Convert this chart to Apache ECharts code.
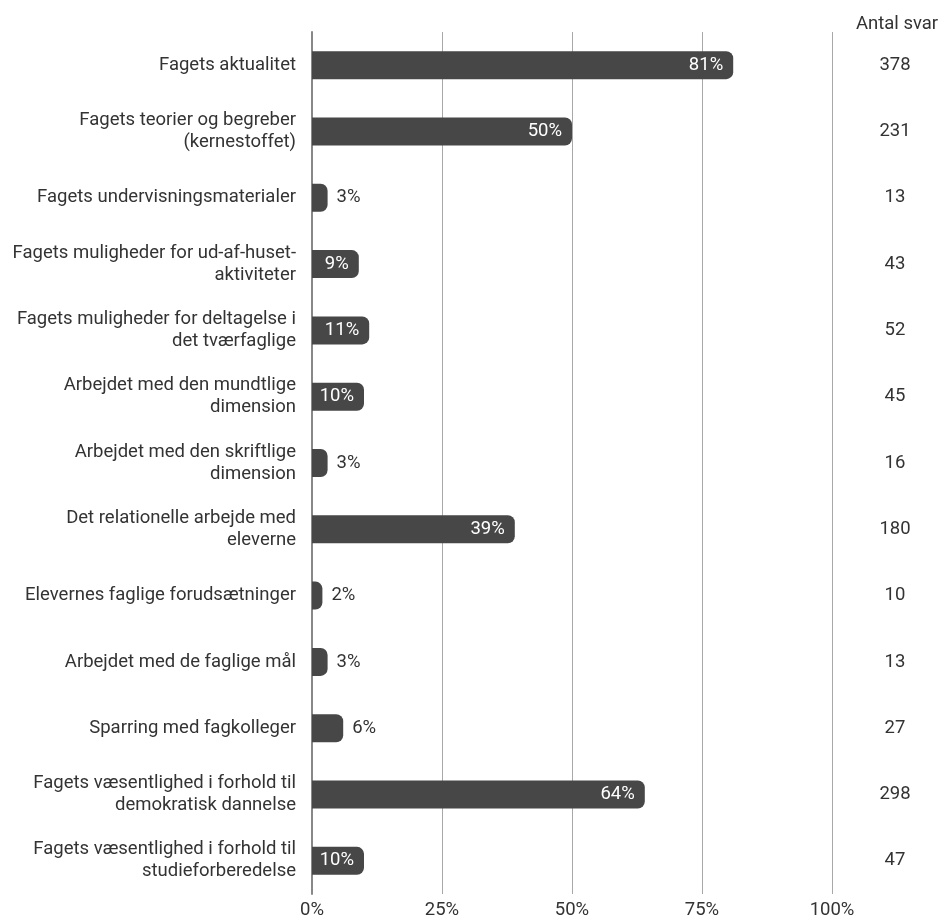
<!DOCTYPE html>
<html><head><meta charset="utf-8">
<script src="https://cdn.jsdelivr.net/npm/echarts@6/dist/echarts.min.js"></script>
<style>html,body{margin:0;padding:0;background:#fff}#c{width:939px;height:922px}</style>
</head><body><div id="c"></div>
<script>
const categories = [
  "Fagets aktualitet",
  "Fagets teorier og begreber\n(kernestoffet)",
  "Fagets undervisningsmaterialer",
  "Fagets muligheder for ud-af-huset-\naktiviteter",
  "Fagets muligheder for deltagelse i\ndet tværfaglige",
  "Arbejdet med den mundtlige\ndimension",
  "Arbejdet med den skriftlige\ndimension",
  "Det relationelle arbejde med\neleverne",
  "Elevernes faglige forudsætninger",
  "Arbejdet med de faglige mål",
  "Sparring med fagkolleger",
  "Fagets væsentlighed i forhold til\ndemokratisk dannelse",
  "Fagets væsentlighed i forhold til\nstudieforberedelse"
];
const percentValues = [81, 50, 3, 9, 11, 10, 3, 39, 2, 3, 6, 64, 10];
const answerCounts = [378, 231, 13, 43, 52, 45, 16, 180, 10, 13, 27, 298, 47];
const xTickLabels = ["0%", "25%", "50%", "75%", "100%"];
const rightHeader = "Antal svar";

const FONT = 'Roboto';
const FS = 18.5;
const chart = echarts.init(document.getElementById('c'), null, {renderer: 'canvas'});
const barData = percentValues.map(v => {
  const inside = v >= 9;
  return {
    value: v,
    label: inside
      ? {position: 'insideRight', distance: 10, color: '#ffffff'}
      : {position: 'right', distance: 9, color: '#333333'}
  };
});
chart.setOption({
  animation: false,
  title: {
    text: rightHeader, left: 892, top: 10, textAlign: 'center',
    textStyle: {fontFamily: FONT, fontSize: FS, fontWeight: 'normal', color: '#333'}
  },
  grid: {left: 312, top: 32, width: 520, height: 862, containLabel: false},
  xAxis: {
    type: 'value', min: 0, max: 100, interval: 25,
    axisLine: {show: false}, axisTick: {show: false},
    splitLine: {lineStyle: {color: '#a8a8a8', width: 1}},
    axisLabel: {
      margin: 7, fontFamily: FONT, fontSize: FS, color: '#333',
      formatter: (v) => xTickLabels[Math.round(v / 25)]
    }
  },
  yAxis: [{
    type: 'category', data: categories, inverse: true,
    axisLine: {lineStyle: {color: '#888', width: 2}},
    axisTick: {show: false},
    axisLabel: {margin: 16, fontFamily: FONT, fontSize: FS, color: '#333', lineHeight: 22, align: 'right'}
  }, {
    type: 'category', data: answerCounts.map(String), inverse: true, position: 'right',
    axisLine: {show: false}, axisTick: {show: false},
    axisLabel: {margin: 63, fontFamily: FONT, fontSize: FS, color: '#333', align: 'center'}
  }],
  series: [{
    type: 'bar', data: barData, barWidth: 28,
    itemStyle: {color: '#474747', borderRadius: [0, 7, 7, 0]},
    label: {show: true, formatter: '{c}%', fontFamily: FONT, fontSize: FS}
  }]
});
</script></body></html>
